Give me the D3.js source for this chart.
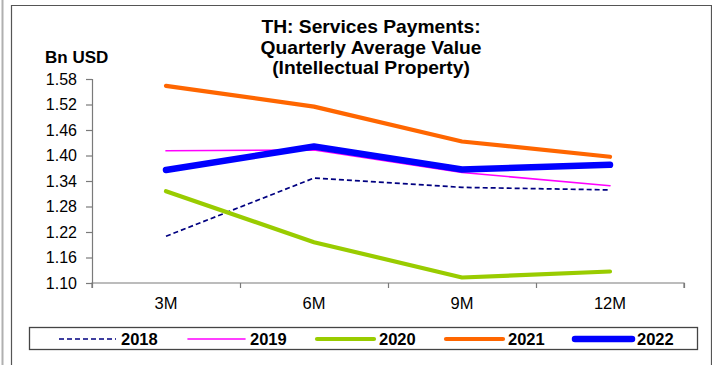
<!DOCTYPE html>
<html>
<head>
<meta charset="utf-8">
<script src="https://cdn.jsdelivr.net/npm/d3@7/dist/d3.min.js"></script>
<style>
  html, body { margin: 0; padding: 0; background: #fff; }
  svg { display: block; }
  text { font-family: "Liberation Sans", Arial, sans-serif; fill: #000; }
</style>
</head>
<body>
<svg id="chart" width="712" height="365"></svg>
<script>
// Quarterly average value of services payments for intellectual property, Thailand (Bn USD)
const categories = ["3M", "6M", "9M", "12M"];
const seriesNames = ["2018", "2019", "2020", "2021", "2022"];
const values2018 = [1.210, 1.347, 1.325, 1.319];
const values2019 = [1.411, 1.413, 1.360, 1.329];
const values2020 = [1.316, 1.196, 1.113, 1.127];
const values2021 = [1.564, 1.515, 1.433, 1.397];
const values2022 = [1.366, 1.421, 1.367, 1.378];
const yTickValues = [1.10, 1.16, 1.22, 1.28, 1.34, 1.40, 1.46, 1.52, 1.58];
const titleLines = ["TH: Services Payments:", "Quarterly Average Value", "(Intellectual Property)"];

const seriesValues = [values2018, values2019, values2020, values2021, values2022];
const seriesStyle = [
  { color: "#000080", width: 1.7, dash: "5,3" },
  { color: "#FF00FF", width: 1.6, dash: null },
  { color: "#99CC00", width: 4.2, dash: null },
  { color: "#FF6600", width: 4.2, dash: null },
  { color: "#0000FF", width: 6.5, dash: null }
];

const svg = d3.select("#chart");

// outer frame
svg.append("line").attr("x1", 2.5).attr("x2", 2.5).attr("y1", 0).attr("y2", 365)
  .attr("stroke", "#b0b0b0").attr("stroke-width", 2);
svg.append("path").attr("d", "M11.5,365 V5.5 H711.5 V365")
  .attr("fill", "none").attr("stroke", "#555").attr("stroke-width", 1.2);

const plotLeft = 92, plotRight = 684, plotTop = 79, plotBottom = 283;

const x = d3.scaleBand().domain(categories).range([plotLeft, plotRight]);
const xEdge = d3.scaleLinear().domain([0, categories.length]).range([plotLeft, plotRight]);
const y = d3.scaleLinear().domain([1.10, 1.58]).range([plotBottom, plotTop]);

// y axis
const yAxis = svg.append("g").attr("transform", `translate(${plotLeft},0)`)
  .call(d3.axisLeft(y).tickValues(yTickValues).tickSize(6).tickPadding(9)
    .tickFormat(d3.format(".2f")));
yAxis.selectAll("path, line").attr("stroke", "#7a7a7a").attr("stroke-width", 1.2);
yAxis.selectAll("text").style("font-size", "16px").style("font-family", "Liberation Sans, Arial, sans-serif");

// x axis: ticks on category boundaries
const xAxis = svg.append("g").attr("transform", `translate(0,${plotBottom})`)
  .call(d3.axisBottom(xEdge).ticks(categories.length).tickSize(5).tickFormat(""));
xAxis.selectAll("path, line").attr("stroke", "#7a7a7a").attr("stroke-width", 1.2);
xAxis.select("path").attr("d", `M${plotLeft},5V0H${plotRight}V5`);

svg.append("g").selectAll("text").data(categories).join("text")
  .attr("x", d => x(d) + x.bandwidth() / 2)
  .attr("y", 309)
  .attr("text-anchor", "middle")
  .style("font-size", "16.5px")
  .text(d => d);

// series lines
const line = d3.line()
  .x((d, i) => x(categories[i]) + x.bandwidth() / 2)
  .y(d => y(d));

svg.append("g").selectAll("path").data(seriesValues).join("path")
  .attr("d", d => line(d))
  .attr("fill", "none")
  .attr("stroke", (d, i) => seriesStyle[i].color)
  .attr("stroke-width", (d, i) => seriesStyle[i].width)
  .attr("stroke-dasharray", (d, i) => seriesStyle[i].dash)
  .attr("stroke-linecap", (d, i) => seriesStyle[i].dash ? "butt" : "round")
  .attr("stroke-linejoin", "round");

// title
svg.append("g").selectAll("text").data(titleLines).join("text")
  .attr("transform", (d, i) => `translate(371,${33 + i * 20.5}) scale(1.1,1)`)
  .attr("text-anchor", "middle")
  .style("font-size", "17.5px")
  .style("font-weight", "bold")
  .text(d => d);

// unit label
svg.append("text").attr("x", 45).attr("y", 63)
  .style("font-size", "17px").style("font-weight", "bold")
  .text("Bn USD");

// legend
const legend = svg.append("g");
legend.append("rect").attr("x", 29.5).attr("y", 327.5).attr("width", 668).attr("height", 22)
  .attr("fill", "#fff").attr("stroke", "#444").attr("stroke-width", 1.3);
const legendX = d3.scalePoint().domain(seriesNames).range([59, 575]);
const items = legend.selectAll("g.item").data(seriesNames).join("g")
  .attr("class", "item")
  .attr("transform", d => `translate(${legendX(d)},339)`);
items.append("line")
  .attr("x1", 0).attr("x2", 57).attr("y1", 0).attr("y2", 0)
  .attr("stroke", (d, i) => seriesStyle[i].color)
  .attr("stroke-width", (d, i) => seriesStyle[i].width)
  .attr("stroke-dasharray", (d, i) => seriesStyle[i].dash)
  .attr("stroke-linecap", (d, i) => seriesStyle[i].dash ? "butt" : "round");
items.append("text")
  .attr("x", 62).attr("y", 6)
  .style("font-size", "16.5px").style("font-weight", "bold")
  .text(d => d);
</script>
</body>
</html>
